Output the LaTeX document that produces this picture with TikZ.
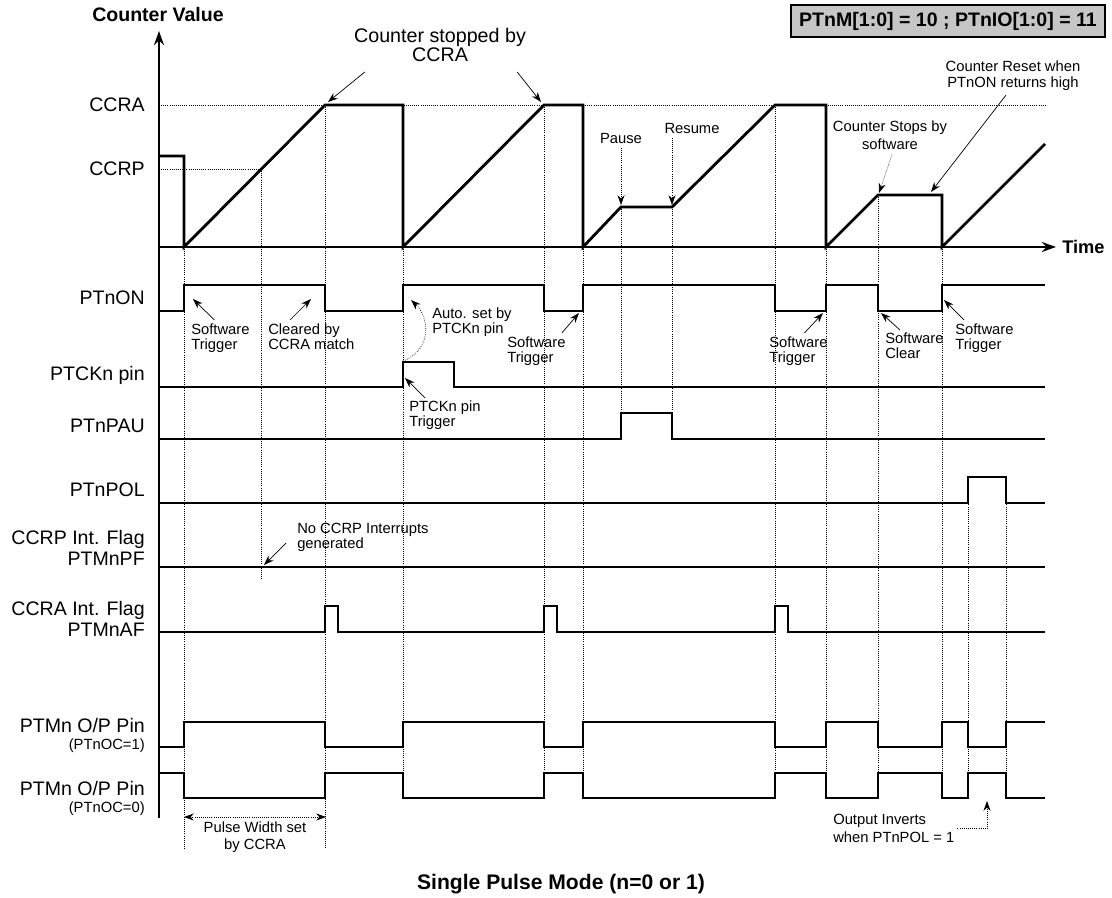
\documentclass[tikz,border=0pt]{standalone}
\usepackage{fontspec}
\setmainfont{Liberation Sans}
\usetikzlibrary{arrows.meta}

\tikzset{
  lbl/.style={anchor=east, inner sep=0pt, font=\fontsize{13.9}{15.5}\selectfont},
  head/.style={inner sep=0pt, font=\bfseries\fontsize{13.9}{15}\selectfont},
  note/.style={anchor=north west, inner sep=0pt, align=left, font=\fontsize{10.5}{10.6}\selectfont},
  count/.style={line width=2pt, line join=miter},
  sig/.style={line width=1pt},
  guide/.style={densely dotted, line width=0.5pt},
  lead/.style={line width=0.5pt, -{Stealth[length=7pt, width=5pt]}},
  axis/.style={line width=2pt, -{Stealth[length=10pt, width=7pt]}},
  modebox/.style={draw, line width=0.8pt, fill=gray!45, minimum width=7.85cm, minimum height=0.8cm, inner sep=0pt,
    font=\bfseries\fontsize{13.9}{15}\selectfont}
}

\begin{document}
\begin{tikzpicture}[x=0.025cm, y=-0.025cm]
\useasboundingbox (0,0) rectangle (1112,898);

% guide lines
\draw[guide] (159,105) -- (1045,105) (159,169) -- (261,169);
\draw[guide] (184,247) -- (184,849) (261,169) -- (261,580) (325,105) -- (325,849)
  (403,247) -- (403,798) (544,105) -- (544,798) (583,247) -- (583,798)
  (621,207) -- (621,439) (672,207) -- (672,439) (775,105) -- (775,798)
  (826,247) -- (826,798) (878,195) -- (878,798) (942,247) -- (942,798)
  (968,477) -- (968,798) (1006,477) -- (1006,798);

% axes
\draw[axis] (159,818) -- (159,31);
\draw[axis] (159,247) -- (1056,247);

% counter value
\draw[count] (159,156) -- (184,156) -- (184,247) -- (325,105) -- (403,105) -- (403,247) -- (544,105)
  -- (583,105) -- (583,247) -- (621,207) -- (672,207) -- (775,105) -- (826,105) -- (826,247)
  -- (878,195) -- (942,195) -- (942,247) -- (1045,144);

% signals
\draw[sig] (159,311) -- (184,311) -- (184,285) -- (325,285) -- (325,311) -- (403,311) -- (403,285)
  -- (544,285) -- (544,311) -- (583,311) -- (583,285) -- (775,285) -- (775,311) -- (826,311)
  -- (826,285) -- (878,285) -- (878,311) -- (942,311) -- (942,285) -- (1045,285);
\draw[sig] (159,387) -- (403,387) -- (403,362) -- (454,362) -- (454,387) -- (1045,387);
\draw[sig] (159,439) -- (621,439) -- (621,413) -- (672,413) -- (672,439) -- (1045,439);
\draw[sig] (159,503) -- (968,503) -- (968,477) -- (1006,477) -- (1006,503) -- (1045,503);
\draw[sig] (159,567) -- (1045,567);
\draw[sig] (159,632) -- (325,632) -- (325,606) -- (338,606) -- (338,632) -- (544,632) -- (544,606)
  -- (557,606) -- (557,632) -- (775,632) -- (775,606) -- (788,606) -- (788,632) -- (1045,632);
\draw[sig] (159,747) -- (184,747) -- (184,722) -- (325,722) -- (325,747) -- (403,747) -- (403,722)
  -- (544,722) -- (544,747) -- (583,747) -- (583,722) -- (775,722) -- (775,747) -- (826,747)
  -- (826,722) -- (878,722) -- (878,747) -- (942,747) -- (942,722) -- (968,722) -- (968,747)
  -- (1006,747) -- (1006,722) -- (1045,722);
\draw[sig] (159,773) -- (184,773) -- (184,798) -- (325,798) -- (325,773) -- (403,773) -- (403,798)
  -- (544,798) -- (544,773) -- (583,773) -- (583,798) -- (775,798) -- (775,773) -- (826,773)
  -- (826,798) -- (878,798) -- (878,773) -- (942,773) -- (942,798) -- (968,798) -- (968,773)
  -- (1006,773) -- (1006,798) -- (1045,798);

% row labels
\node[head] (cval) at (158,15) {Counter Value};
\node[head, anchor=west, font=\bfseries\fontsize{13}{15}\selectfont] (time) at (1062,247) {Time};
\node[lbl] (ccra) at (145,105) {CCRA};
\node[lbl] (ccrp) at (145,169) {CCRP};
\node[lbl] (on) at (145,298) {PTnON};
\node[lbl] (ckpin) at (145,375) {PTCKn pin};
\node[lbl] (pau) at (145,426) {PTnPAU};
\node[lbl] (pol) at (145,490) {PTnPOL};
\node[lbl, align=right] (pflag) at (145,548) {CCRP Int. Flag\\PTMnPF};
\node[lbl, align=right] (aflag) at (145,619) {CCRA Int. Flag\\PTMnAF};
\node[lbl] (outA) at (145,726) {PTMn O/P Pin};
\node[lbl, font=\fontsize{10.5}{12}\selectfont] (outAsub) at (145,746) {(PTnOC=1)};
\node[lbl] (outB) at (145,789) {PTMn O/P Pin};
\node[lbl, font=\fontsize{10.5}{12}\selectfont] (outBsub) at (145,809) {(PTnOC=0)};

\node[modebox] (mode) at (948,21) {PTnM[1:0] = 10 ; PTnIO[1:0] = 11};
\node[head, font=\bfseries\fontsize{15}{17}\selectfont] (title) at (561,884) {Single Pulse Mode (n=0 or 1)};

% arrow targets
\coordinate (hitA) at (328,102);
\coordinate (hitB) at (541,102);
\coordinate (pauseT) at (621,205);
\coordinate (resumeT) at (672,205);
\coordinate (stopT) at (879,193);
\coordinate (resetT) at (931,192);
\coordinate (trigA) at (193,299);
\coordinate (clrA) at (311,299);
\coordinate (ckRise) at (403,361);
\coordinate (autoT) at (411,300);
\coordinate (trigB) at (579,313);
\coordinate (trigC) at (823,313);
\coordinate (clrB) at (881,313);
\coordinate (trigD) at (944,300);
\coordinate (ckT) at (405,378);
\coordinate (noPFT) at (264,565);
\coordinate (pwL) at (184,817);
\coordinate (pwR) at (326,817);
\coordinate (invT) at (987,801);

% notes
\node[inner sep=0pt, align=center, font=\fontsize{14}{13.5}\selectfont] (stopA) at (440,45) {Counter stopped by\\CCRA};
\draw[lead] ([shift={(11,10)}]stopA.south west) -- (hitA);
\draw[lead] ([shift={(-9,10)}]stopA.south east) -- (hitB);

\node[inner sep=0pt, font=\fontsize{10.5}{12}\selectfont] (pause) at (621,138) {Pause};
\draw[lead, densely dotted] ([yshift=-3]pause.south) -- (pauseT);
\node[inner sep=0pt, font=\fontsize{10.5}{12}\selectfont] (resume) at (692,128) {Resume};
\draw[lead, densely dotted] ([yshift=-3]resume.south -| resumeT) -- (resumeT);

\node[inner sep=0pt, align=center, font=\fontsize{10.5}{12.8}\selectfont] (stopSw) at (890,135) {Counter Stops by\\software};
\draw[lead, densely dotted] ([shift={(2,5)}]stopSw.south) -- (stopT);
\node[inner sep=0pt, align=center, font=\fontsize{10.5}{11.3}\selectfont] (reset) at (1013,76) {Counter Reset when\\PTnON returns high};
\draw[lead] ([shift={(-7,4)}]reset.south) -- (resetT);

\node[note] (swA) at (191,324) {Software\\Trigger};
\draw[lead] ([shift={(-6,-4)}]swA.north) -- (trigA);
\node[note] (clr) at (268,324) {Cleared by\\CCRA match};
\draw[lead] ([shift={(22,-4)}]clr.north west) -- (clrA);
\node[note] (auto) at (432,308) {Auto. set by\\PTCKn pin};
\draw[lead, densely dotted] (ckRise) .. controls (432,350) and (430,318) .. (autoT);
\node[note] (swB) at (507,337) {Software\\Trigger};
\draw[lead] ([shift={(-4,-4)}]swB.north east) -- (trigB);
\node[note] (swC) at (769,337) {Software\\Trigger};
\draw[lead] ([shift={(6,-4)}]swC.north) -- (trigC);
\node[note] (swClr) at (885,333) {Software\\Clear};
\draw[lead] ([shift={(15,-3)}]swClr.north west) -- (clrB);
\node[note] (swD) at (955,324) {Software\\Trigger};
\draw[lead] ([shift={(9,-4)}]swD.north west) -- (trigD);
\node[note] (ckTrig) at (409,401) {PTCKn pin\\Trigger};
\draw[lead] ([shift={(16,-3)}]ckTrig.north west) -- (ckT);
\node[note] (noPF) at (297,523) {No CCRP Interrupts\\generated};
\draw[lead] ([shift={(-11,20)}]noPF.north west) -- (noPFT);

\draw[guide, {Stealth[length=7pt, width=5pt]}-{Stealth[length=7pt, width=5pt]}] (pwL) -- (pwR);
\node[inner sep=0pt, anchor=north, align=center, font=\fontsize{10.5}{12}\selectfont] (pw) at (255,822) {Pulse Width set\\by CCRA};
\node[note, font=\fontsize{10.5}{12.8}\selectfont] (inv) at (833,814) {Output Inverts\\when PTnPOL = 1};
\draw[lead, densely dotted] ([xshift=2]inv.east) -| (invT);
\end{tikzpicture}
\end{document}
